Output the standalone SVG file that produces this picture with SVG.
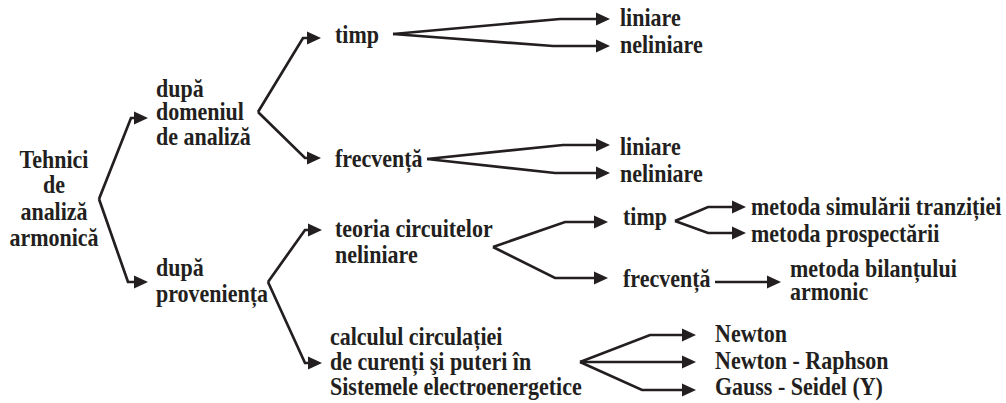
<svg xmlns="http://www.w3.org/2000/svg" width="1006" height="403" viewBox="0 0 1006 403">
<style>
text{font-family:"Liberation Serif","Times New Roman",serif;font-weight:bold;font-size:22px;fill:#231f20}
.c{fill:none;stroke:#231f20;stroke-width:2.7;stroke-linejoin:miter}
</style>
<defs>
<marker id="ah" markerUnits="userSpaceOnUse" markerWidth="15" markerHeight="15" viewBox="0 -7.5 15 15" refX="1" refY="0" orient="auto">
<path d="M0,-6.5 L14,0 L0,6.5 z" fill="#231f20"/>
</marker>
</defs>
<rect width="1006" height="403" fill="#ffffff"/>
<g id="connectors">
<polyline class="c" points="99,199 131,118 135,118" marker-end="url(#ah)"/>
<polyline class="c" points="99,199 128,282 135,282" marker-end="url(#ah)"/>
<polyline class="c" points="258,112 303,38 308,38" marker-end="url(#ah)"/>
<polyline class="c" points="258,112 305,158 308,158" marker-end="url(#ah)"/>
<polyline class="c" points="268,282 305,230 309,230" marker-end="url(#ah)"/>
<polyline class="c" points="268,282 305,363 309,363" marker-end="url(#ah)"/>
<polyline class="c" points="393,34 560,19 597,19" marker-end="url(#ah)"/>
<polyline class="c" points="393,34 553,46 597,46" marker-end="url(#ah)"/>
<polyline class="c" points="427,159 563,145 597,145" marker-end="url(#ah)"/>
<polyline class="c" points="427,159 555,173 597,173" marker-end="url(#ah)"/>
<polyline class="c" points="493,247 565,222 595,222" marker-end="url(#ah)"/>
<polyline class="c" points="493,247 555,278 595,278" marker-end="url(#ah)"/>
<polyline class="c" points="580,362 650,335 683,335" marker-end="url(#ah)"/>
<polyline class="c" points="580,362 683,362" marker-end="url(#ah)"/>
<polyline class="c" points="580,362 642,390 683,390" marker-end="url(#ah)"/>
<polyline class="c" points="675,221 708,207 733,207" marker-end="url(#ah)"/>
<polyline class="c" points="675,221 708,233 733,233" marker-end="url(#ah)"/>
<polyline class="c" points="715,282 768,282" marker-end="url(#ah)"/>
</g>
<g id="n-root"><text text-anchor="middle" transform="translate(54,168) scale(1,1.1)"><tspan x="0" y="0">Tehnici</tspan><tspan x="0" dy="22.7">de</tspan><tspan x="0" dy="24.5">analiză</tspan><tspan x="0" dy="23.6">armonică</tspan></text></g>
<g id="n-domeniu"><text transform="translate(156,97) scale(1,1.1)"><tspan x="0" y="0">după</tspan><tspan x="0" dy="20.9">domeniul</tspan><tspan x="0" dy="22.7">de analiză</tspan></text></g>
<g id="n-provenienta"><text transform="translate(156,276) scale(1,1.1)"><tspan x="0" y="0">după</tspan><tspan x="0" dy="23.6">proveniența</tspan></text></g>
<g id="n-timp1"><text transform="translate(335,43) scale(1,1.1)">timp</text></g>
<g id="n-frecventa1"><text transform="translate(335,167) scale(1,1.1)">frecvență</text></g>
<g id="n-liniare1"><text transform="translate(620,26) scale(1,1.1)">liniare</text></g>
<g id="n-neliniare1"><text transform="translate(620,53) scale(1,1.1)">neliniare</text></g>
<g id="n-liniare2"><text transform="translate(620,155) scale(1,1.1)">liniare</text></g>
<g id="n-neliniare2"><text transform="translate(620,182) scale(1,1.1)">neliniare</text></g>
<g id="n-teoria"><text transform="translate(335,237) scale(1,1.1)"><tspan x="0" y="0">teoria circuitelor</tspan><tspan x="0" dy="23.6">neliniare</tspan></text></g>
<g id="n-calcul"><text transform="translate(330,345) scale(1,1.1)"><tspan x="0" y="0">calculul circulației</tspan><tspan x="0" dy="22.7">de curenți şi puteri în</tspan><tspan x="0" dy="22.7">Sistemele electroenergetice</tspan></text></g>
<g id="n-timp2"><text transform="translate(623,225) scale(1,1.1)">timp</text></g>
<g id="n-frecventa2"><text transform="translate(623,287) scale(1,1.1)">frecvență</text></g>
<g id="n-simulare"><text transform="translate(751,215) scale(1,1.1)">metoda simulării tranziției</text></g>
<g id="n-prospectare"><text transform="translate(751,242) scale(1,1.1)">metoda prospectării</text></g>
<g id="n-bilant"><text transform="translate(790,277) scale(1,1.1)"><tspan x="0" y="0">metoda bilanțului</tspan><tspan x="0" dy="20.9">armonic</tspan></text></g>
<g id="n-newton"><text transform="translate(715,342) scale(1,1.1)">Newton</text></g>
<g id="n-raphson"><text transform="translate(715,369) scale(1,1.1)">Newton - Raphson</text></g>
<g id="n-gauss"><text transform="translate(715,395) scale(1,1.1)">Gauss - Seidel (Y)</text></g>
</svg>
